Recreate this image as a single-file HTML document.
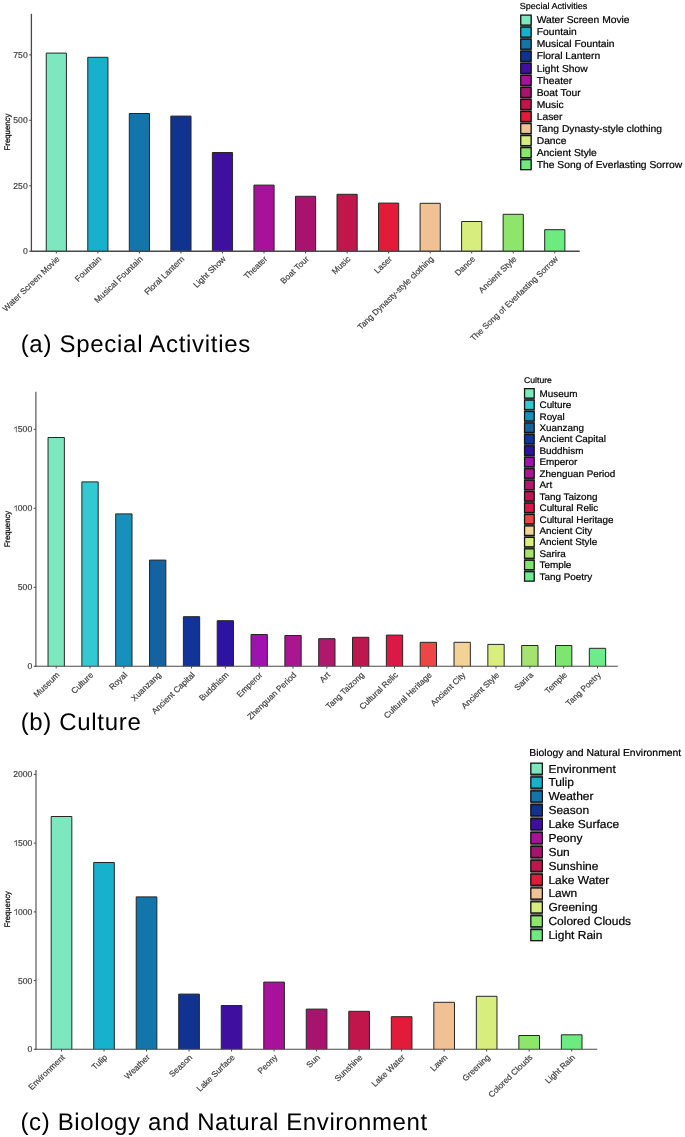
<!DOCTYPE html>
<html><head><meta charset="utf-8"><title>Frequency charts</title>
<style>
html,body{margin:0;padding:0;background:#fff;}
body{width:685px;height:1137px;overflow:hidden;}
svg{display:block;font-family:"Liberation Sans", sans-serif;will-change:transform;text-rendering:geometricPrecision;}
.lg{stroke:#000;stroke-width:0.22px;}
.ax{stroke:#3C3C3C;stroke-width:0.18px;}
</style></head>
<body>
<svg width="685" height="1137" viewBox="0 0 685 1137">
<rect x="0" y="0" width="685" height="1137" fill="#fff"/>
<rect x="46.24" y="53.1" width="20.17" height="198.15" fill="#7DE8BF"/>
<path d="M46.24,251.25V53.1H66.41V251.25" fill="none" stroke="#262626" stroke-width="1"/>
<rect x="87.78" y="57.3" width="20.17" height="193.95" fill="#17B0CD"/>
<path d="M87.78,251.25V57.3H107.95V251.25" fill="none" stroke="#262626" stroke-width="1"/>
<rect x="129.31" y="113.5" width="20.17" height="137.75" fill="#1375AA"/>
<path d="M129.31,251.25V113.5H149.48V251.25" fill="none" stroke="#262626" stroke-width="1"/>
<rect x="170.85" y="116.1" width="20.17" height="135.15" fill="#11338F"/>
<path d="M170.85,251.25V116.1H191.02V251.25" fill="none" stroke="#262626" stroke-width="1"/>
<rect x="212.39" y="152.5" width="20.17" height="98.75" fill="#3F0FA0"/>
<path d="M212.39,251.25V152.5H232.56V251.25" fill="none" stroke="#262626" stroke-width="1"/>
<rect x="253.93" y="185.1" width="20.17" height="66.15" fill="#A8119A"/>
<path d="M253.93,251.25V185.1H274.1V251.25" fill="none" stroke="#262626" stroke-width="1"/>
<rect x="295.47" y="196.3" width="20.17" height="54.95" fill="#A8136D"/>
<path d="M295.47,251.25V196.3H315.63V251.25" fill="none" stroke="#262626" stroke-width="1"/>
<rect x="337" y="194.3" width="20.17" height="56.95" fill="#C1164B"/>
<path d="M337,251.25V194.3H357.17V251.25" fill="none" stroke="#262626" stroke-width="1"/>
<rect x="378.54" y="203.1" width="20.17" height="48.15" fill="#E21B3A"/>
<path d="M378.54,251.25V203.1H398.71V251.25" fill="none" stroke="#262626" stroke-width="1"/>
<rect x="420.08" y="203.3" width="20.17" height="47.95" fill="#F0C195"/>
<path d="M420.08,251.25V203.3H440.25V251.25" fill="none" stroke="#262626" stroke-width="1"/>
<rect x="461.62" y="221.5" width="20.17" height="29.75" fill="#D7EE7E"/>
<path d="M461.62,251.25V221.5H481.79V251.25" fill="none" stroke="#262626" stroke-width="1"/>
<rect x="503.15" y="214.3" width="20.17" height="36.95" fill="#8EE56C"/>
<path d="M503.15,251.25V214.3H523.32V251.25" fill="none" stroke="#262626" stroke-width="1"/>
<rect x="544.69" y="229.7" width="20.17" height="21.55" fill="#6EEB7E"/>
<path d="M544.69,251.25V229.7H564.86V251.25" fill="none" stroke="#262626" stroke-width="1"/>
<line x1="31.4" y1="13.8" x2="31.4" y2="251.9" stroke="#484848" stroke-width="1.3"/>
<line x1="30.75" y1="251.25" x2="579.7" y2="251.25" stroke="#484848" stroke-width="1.3"/>
<line x1="29.2" y1="251.25" x2="31.4" y2="251.25" stroke="#484848" stroke-width="1"/>
<text class="ax" x="27.7" y="254.25" font-size="8.6" fill="#3C3C3C" text-anchor="end">0</text>
<line x1="29.2" y1="185.8" x2="31.4" y2="185.8" stroke="#484848" stroke-width="1"/>
<text class="ax" x="27.7" y="188.8" font-size="8.6" fill="#3C3C3C" text-anchor="end">250</text>
<line x1="29.2" y1="120.3" x2="31.4" y2="120.3" stroke="#484848" stroke-width="1"/>
<text class="ax" x="27.7" y="123.3" font-size="8.6" fill="#3C3C3C" text-anchor="end">500</text>
<line x1="29.2" y1="54.9" x2="31.4" y2="54.9" stroke="#484848" stroke-width="1"/>
<text class="ax" x="27.7" y="57.9" font-size="8.6" fill="#3C3C3C" text-anchor="end">750</text>
<line x1="56.32" y1="251.25" x2="56.32" y2="253.45" stroke="#484848" stroke-width="1"/>
<text class="ax" font-size="8.5" fill="#3C3C3C" text-anchor="end" transform="translate(60.22 259.55) scale(1 0.965) rotate(-45)">Water Screen Movie</text>
<line x1="97.86" y1="251.25" x2="97.86" y2="253.45" stroke="#484848" stroke-width="1"/>
<text class="ax" font-size="8.5" fill="#3C3C3C" text-anchor="end" transform="translate(101.76 259.55) scale(1 0.965) rotate(-45)">Fountain</text>
<line x1="139.4" y1="251.25" x2="139.4" y2="253.45" stroke="#484848" stroke-width="1"/>
<text class="ax" font-size="8.5" fill="#3C3C3C" text-anchor="end" transform="translate(143.3 259.55) scale(1 0.965) rotate(-45)">Musical Fountain</text>
<line x1="180.94" y1="251.25" x2="180.94" y2="253.45" stroke="#484848" stroke-width="1"/>
<text class="ax" font-size="8.5" fill="#3C3C3C" text-anchor="end" transform="translate(184.84 259.55) scale(1 0.965) rotate(-45)">Floral Lantern</text>
<line x1="222.47" y1="251.25" x2="222.47" y2="253.45" stroke="#484848" stroke-width="1"/>
<text class="ax" font-size="8.5" fill="#3C3C3C" text-anchor="end" transform="translate(226.37 259.55) scale(1 0.965) rotate(-45)">Light Show</text>
<line x1="264.01" y1="251.25" x2="264.01" y2="253.45" stroke="#484848" stroke-width="1"/>
<text class="ax" font-size="8.5" fill="#3C3C3C" text-anchor="end" transform="translate(267.91 259.55) scale(1 0.965) rotate(-45)">Theater</text>
<line x1="305.55" y1="251.25" x2="305.55" y2="253.45" stroke="#484848" stroke-width="1"/>
<text class="ax" font-size="8.5" fill="#3C3C3C" text-anchor="end" transform="translate(309.45 259.55) scale(1 0.965) rotate(-45)">Boat Tour</text>
<line x1="347.09" y1="251.25" x2="347.09" y2="253.45" stroke="#484848" stroke-width="1"/>
<text class="ax" font-size="8.5" fill="#3C3C3C" text-anchor="end" transform="translate(350.99 259.55) scale(1 0.965) rotate(-45)">Music</text>
<line x1="388.63" y1="251.25" x2="388.63" y2="253.45" stroke="#484848" stroke-width="1"/>
<text class="ax" font-size="8.5" fill="#3C3C3C" text-anchor="end" transform="translate(392.53 259.55) scale(1 0.965) rotate(-45)">Laser</text>
<line x1="430.16" y1="251.25" x2="430.16" y2="253.45" stroke="#484848" stroke-width="1"/>
<text class="ax" font-size="8.5" fill="#3C3C3C" text-anchor="end" transform="translate(434.06 259.55) scale(1 0.965) rotate(-45)">Tang Dynasty-style clothing</text>
<line x1="471.7" y1="251.25" x2="471.7" y2="253.45" stroke="#484848" stroke-width="1"/>
<text class="ax" font-size="8.5" fill="#3C3C3C" text-anchor="end" transform="translate(475.6 259.55) scale(1 0.965) rotate(-45)">Dance</text>
<line x1="513.24" y1="251.25" x2="513.24" y2="253.45" stroke="#484848" stroke-width="1"/>
<text class="ax" font-size="8.5" fill="#3C3C3C" text-anchor="end" transform="translate(517.14 259.55) scale(1 0.965) rotate(-45)">Ancient Style</text>
<line x1="554.78" y1="251.25" x2="554.78" y2="253.45" stroke="#484848" stroke-width="1"/>
<text class="ax" font-size="8.5" fill="#3C3C3C" text-anchor="end" transform="translate(558.68 259.55) scale(1 0.965) rotate(-45)">The Song of Everlasting Sorrow</text>
<text class="lg" font-size="8.08" fill="#000" text-anchor="middle" transform="translate(9.7 132) scale(1 0.965) rotate(-90)">Frequency</text>
<text class="lg" font-size="9.08" fill="#000000" transform="translate(519.7 8.8) scale(1 0.965)">Special Activities</text>
<rect x="520.3" y="15.45" width="11.3" height="153.9" fill="#6A6A6A"/>
<rect x="520.75" y="15.1" width="10.4" height="10" fill="#7DE8BF" stroke="#141414" stroke-width="1.3"/>
<text class="lg" font-size="10.3" fill="#000000" transform="translate(536.7 23.3) scale(1 0.965)">Water Screen Movie</text>
<rect x="520.75" y="27.15" width="10.4" height="10" fill="#17B0CD" stroke="#141414" stroke-width="1.3"/>
<text class="lg" font-size="10.3" fill="#000000" transform="translate(536.7 35.35) scale(1 0.965)">Fountain</text>
<rect x="520.75" y="39.2" width="10.4" height="10" fill="#1375AA" stroke="#141414" stroke-width="1.3"/>
<text class="lg" font-size="10.3" fill="#000000" transform="translate(536.7 47.4) scale(1 0.965)">Musical Fountain</text>
<rect x="520.75" y="51.25" width="10.4" height="10" fill="#11338F" stroke="#141414" stroke-width="1.3"/>
<text class="lg" font-size="10.3" fill="#000000" transform="translate(536.7 59.45) scale(1 0.965)">Floral Lantern</text>
<rect x="520.75" y="63.3" width="10.4" height="10" fill="#3F0FA0" stroke="#141414" stroke-width="1.3"/>
<text class="lg" font-size="10.3" fill="#000000" transform="translate(536.7 71.5) scale(1 0.965)">Light Show</text>
<rect x="520.75" y="75.35" width="10.4" height="10" fill="#A8119A" stroke="#141414" stroke-width="1.3"/>
<text class="lg" font-size="10.3" fill="#000000" transform="translate(536.7 83.55) scale(1 0.965)">Theater</text>
<rect x="520.75" y="87.4" width="10.4" height="10" fill="#A8136D" stroke="#141414" stroke-width="1.3"/>
<text class="lg" font-size="10.3" fill="#000000" transform="translate(536.7 95.6) scale(1 0.965)">Boat Tour</text>
<rect x="520.75" y="99.45" width="10.4" height="10" fill="#C1164B" stroke="#141414" stroke-width="1.3"/>
<text class="lg" font-size="10.3" fill="#000000" transform="translate(536.7 107.65) scale(1 0.965)">Music</text>
<rect x="520.75" y="111.5" width="10.4" height="10" fill="#E21B3A" stroke="#141414" stroke-width="1.3"/>
<text class="lg" font-size="10.3" fill="#000000" transform="translate(536.7 119.7) scale(1 0.965)">Laser</text>
<rect x="520.75" y="123.55" width="10.4" height="10" fill="#F0C195" stroke="#141414" stroke-width="1.3"/>
<text class="lg" font-size="10.3" fill="#000000" transform="translate(536.7 131.75) scale(1 0.965)">Tang Dynasty-style clothing</text>
<rect x="520.75" y="135.6" width="10.4" height="10" fill="#D7EE7E" stroke="#141414" stroke-width="1.3"/>
<text class="lg" font-size="10.3" fill="#000000" transform="translate(536.7 143.8) scale(1 0.965)">Dance</text>
<rect x="520.75" y="147.65" width="10.4" height="10" fill="#8EE56C" stroke="#141414" stroke-width="1.3"/>
<text class="lg" font-size="10.3" fill="#000000" transform="translate(536.7 155.85) scale(1 0.965)">Ancient Style</text>
<rect x="520.75" y="159.7" width="10.4" height="10" fill="#6EEB7E" stroke="#141414" stroke-width="1.3"/>
<text class="lg" font-size="10.3" fill="#000000" transform="translate(536.7 167.9) scale(1 0.965)">The Song of Everlasting Sorrow</text>
<text x="20.66" y="352.1" font-size="24" letter-spacing="0.71" fill="#000">(a) Special Activities</text>
<rect x="48.04" y="437.5" width="16.32" height="228.8" fill="#7DE8BE"/>
<path d="M48.04,666.3V437.5H64.36V666.3" fill="none" stroke="#262626" stroke-width="1"/>
<rect x="81.87" y="481.9" width="16.32" height="184.4" fill="#33C9D0"/>
<path d="M81.87,666.3V481.9H98.19V666.3" fill="none" stroke="#262626" stroke-width="1"/>
<rect x="115.7" y="513.9" width="16.32" height="152.4" fill="#1890BC"/>
<path d="M115.7,666.3V513.9H132.02V666.3" fill="none" stroke="#262626" stroke-width="1"/>
<rect x="149.54" y="560.1" width="16.32" height="106.2" fill="#1463A0"/>
<path d="M149.54,666.3V560.1H165.85V666.3" fill="none" stroke="#262626" stroke-width="1"/>
<rect x="183.37" y="616.7" width="16.32" height="49.6" fill="#12339A"/>
<path d="M183.37,666.3V616.7H199.68V666.3" fill="none" stroke="#262626" stroke-width="1"/>
<rect x="217.2" y="620.7" width="16.32" height="45.6" fill="#2C14A0"/>
<path d="M217.2,666.3V620.7H233.51V666.3" fill="none" stroke="#262626" stroke-width="1"/>
<rect x="251.03" y="634.5" width="16.32" height="31.8" fill="#A012B0"/>
<path d="M251.03,666.3V634.5H267.35V666.3" fill="none" stroke="#262626" stroke-width="1"/>
<rect x="284.86" y="635.5" width="16.32" height="30.8" fill="#AA1590"/>
<path d="M284.86,666.3V635.5H301.18V666.3" fill="none" stroke="#262626" stroke-width="1"/>
<rect x="318.69" y="638.7" width="16.32" height="27.6" fill="#B0186C"/>
<path d="M318.69,666.3V638.7H335.01V666.3" fill="none" stroke="#262626" stroke-width="1"/>
<rect x="352.52" y="637.3" width="16.32" height="29" fill="#C01650"/>
<path d="M352.52,666.3V637.3H368.84V666.3" fill="none" stroke="#262626" stroke-width="1"/>
<rect x="386.35" y="635.1" width="16.32" height="31.2" fill="#DE1846"/>
<path d="M386.35,666.3V635.1H402.67V666.3" fill="none" stroke="#262626" stroke-width="1"/>
<rect x="420.19" y="642.3" width="16.32" height="24" fill="#EE4646"/>
<path d="M420.19,666.3V642.3H436.5V666.3" fill="none" stroke="#262626" stroke-width="1"/>
<rect x="454.02" y="642.3" width="16.32" height="24" fill="#F2D296"/>
<path d="M454.02,666.3V642.3H470.33V666.3" fill="none" stroke="#262626" stroke-width="1"/>
<rect x="487.85" y="644.4" width="16.32" height="21.9" fill="#DAEE7E"/>
<path d="M487.85,666.3V644.4H504.16V666.3" fill="none" stroke="#262626" stroke-width="1"/>
<rect x="521.68" y="645.5" width="16.32" height="20.8" fill="#A6E270"/>
<path d="M521.68,666.3V645.5H538V666.3" fill="none" stroke="#262626" stroke-width="1"/>
<rect x="555.51" y="645.5" width="16.32" height="20.8" fill="#7EE670"/>
<path d="M555.51,666.3V645.5H571.83V666.3" fill="none" stroke="#262626" stroke-width="1"/>
<rect x="589.34" y="648.3" width="16.32" height="18" fill="#6EEC8A"/>
<path d="M589.34,666.3V648.3H605.66V666.3" fill="none" stroke="#262626" stroke-width="1"/>
<line x1="35.9" y1="391.8" x2="35.9" y2="666.85" stroke="#484848" stroke-width="1.1"/>
<line x1="35.35" y1="666.3" x2="617.8" y2="666.3" stroke="#484848" stroke-width="1.1"/>
<line x1="33.7" y1="666.3" x2="35.9" y2="666.3" stroke="#484848" stroke-width="1"/>
<text class="ax" x="32.2" y="669.3" font-size="8.6" fill="#3C3C3C" text-anchor="end">0</text>
<line x1="33.7" y1="587.3" x2="35.9" y2="587.3" stroke="#484848" stroke-width="1"/>
<text class="ax" x="32.2" y="590.3" font-size="8.6" fill="#3C3C3C" text-anchor="end">500</text>
<line x1="33.7" y1="508.3" x2="35.9" y2="508.3" stroke="#484848" stroke-width="1"/>
<path d="M16.64,511.3 L16.64,505.14 L16.1,505.14 L15.65,505.8 L14.79,506.44 L13.85,506.91 L13.85,507.65 L14.79,507.26 L15.4,506.83 L15.87,506.44 L15.87,511.3Z" fill="#3C3C3C"/>
<text class="ax" x="32.2" y="511.3" font-size="8.6" fill="#3C3C3C" text-anchor="end">000</text>
<line x1="33.7" y1="429.3" x2="35.9" y2="429.3" stroke="#484848" stroke-width="1"/>
<path d="M16.64,432.3 L16.64,426.14 L16.1,426.14 L15.65,426.8 L14.79,427.44 L13.85,427.91 L13.85,428.65 L14.79,428.26 L15.4,427.83 L15.87,427.44 L15.87,432.3Z" fill="#3C3C3C"/>
<text class="ax" x="32.2" y="432.3" font-size="8.6" fill="#3C3C3C" text-anchor="end">500</text>
<line x1="56.2" y1="666.3" x2="56.2" y2="668.5" stroke="#484848" stroke-width="1"/>
<text class="ax" font-size="8.5" fill="#3C3C3C" text-anchor="end" transform="translate(60.1 675.5) scale(1 0.965) rotate(-45)">Museum</text>
<line x1="90.03" y1="666.3" x2="90.03" y2="668.5" stroke="#484848" stroke-width="1"/>
<text class="ax" font-size="8.5" fill="#3C3C3C" text-anchor="end" transform="translate(93.93 675.5) scale(1 0.965) rotate(-45)">Culture</text>
<line x1="123.86" y1="666.3" x2="123.86" y2="668.5" stroke="#484848" stroke-width="1"/>
<text class="ax" font-size="8.5" fill="#3C3C3C" text-anchor="end" transform="translate(127.76 675.5) scale(1 0.965) rotate(-45)">Royal</text>
<line x1="157.69" y1="666.3" x2="157.69" y2="668.5" stroke="#484848" stroke-width="1"/>
<text class="ax" font-size="8.5" fill="#3C3C3C" text-anchor="end" transform="translate(161.59 675.5) scale(1 0.965) rotate(-45)">Xuanzang</text>
<line x1="191.52" y1="666.3" x2="191.52" y2="668.5" stroke="#484848" stroke-width="1"/>
<text class="ax" font-size="8.5" fill="#3C3C3C" text-anchor="end" transform="translate(195.42 675.5) scale(1 0.965) rotate(-45)">Ancient Capital</text>
<line x1="225.36" y1="666.3" x2="225.36" y2="668.5" stroke="#484848" stroke-width="1"/>
<text class="ax" font-size="8.5" fill="#3C3C3C" text-anchor="end" transform="translate(229.26 675.5) scale(1 0.965) rotate(-45)">Buddhism</text>
<line x1="259.19" y1="666.3" x2="259.19" y2="668.5" stroke="#484848" stroke-width="1"/>
<text class="ax" font-size="8.5" fill="#3C3C3C" text-anchor="end" transform="translate(263.09 675.5) scale(1 0.965) rotate(-45)">Emperor</text>
<line x1="293.02" y1="666.3" x2="293.02" y2="668.5" stroke="#484848" stroke-width="1"/>
<text class="ax" font-size="8.5" fill="#3C3C3C" text-anchor="end" transform="translate(296.92 675.5) scale(1 0.965) rotate(-45)">Zhenguan Period</text>
<line x1="326.85" y1="666.3" x2="326.85" y2="668.5" stroke="#484848" stroke-width="1"/>
<text class="ax" font-size="8.5" fill="#3C3C3C" text-anchor="end" transform="translate(330.75 675.5) scale(1 0.965) rotate(-45)">Art</text>
<line x1="360.68" y1="666.3" x2="360.68" y2="668.5" stroke="#484848" stroke-width="1"/>
<text class="ax" font-size="8.5" fill="#3C3C3C" text-anchor="end" transform="translate(364.58 675.5) scale(1 0.965) rotate(-45)">Tang Taizong</text>
<line x1="394.51" y1="666.3" x2="394.51" y2="668.5" stroke="#484848" stroke-width="1"/>
<text class="ax" font-size="8.5" fill="#3C3C3C" text-anchor="end" transform="translate(398.41 675.5) scale(1 0.965) rotate(-45)">Cultural Relic</text>
<line x1="428.34" y1="666.3" x2="428.34" y2="668.5" stroke="#484848" stroke-width="1"/>
<text class="ax" font-size="8.5" fill="#3C3C3C" text-anchor="end" transform="translate(432.24 675.5) scale(1 0.965) rotate(-45)">Cultural Heritage</text>
<line x1="462.18" y1="666.3" x2="462.18" y2="668.5" stroke="#484848" stroke-width="1"/>
<text class="ax" font-size="8.5" fill="#3C3C3C" text-anchor="end" transform="translate(466.08 675.5) scale(1 0.965) rotate(-45)">Ancient City</text>
<line x1="496.01" y1="666.3" x2="496.01" y2="668.5" stroke="#484848" stroke-width="1"/>
<text class="ax" font-size="8.5" fill="#3C3C3C" text-anchor="end" transform="translate(499.91 675.5) scale(1 0.965) rotate(-45)">Ancient Style</text>
<line x1="529.84" y1="666.3" x2="529.84" y2="668.5" stroke="#484848" stroke-width="1"/>
<text class="ax" font-size="8.5" fill="#3C3C3C" text-anchor="end" transform="translate(533.74 675.5) scale(1 0.965) rotate(-45)">Sarira</text>
<line x1="563.67" y1="666.3" x2="563.67" y2="668.5" stroke="#484848" stroke-width="1"/>
<text class="ax" font-size="8.5" fill="#3C3C3C" text-anchor="end" transform="translate(567.57 675.5) scale(1 0.965) rotate(-45)">Temple</text>
<line x1="597.5" y1="666.3" x2="597.5" y2="668.5" stroke="#484848" stroke-width="1"/>
<text class="ax" font-size="8.5" fill="#3C3C3C" text-anchor="end" transform="translate(601.4 675.5) scale(1 0.965) rotate(-45)">Tang Poetry</text>
<text class="lg" font-size="8.03" fill="#000" text-anchor="middle" transform="translate(9.7 529.1) scale(1 0.965) rotate(-90)">Frequency</text>
<text class="lg" font-size="8.63" fill="#000000" transform="translate(524.06 382.8) scale(1 0.965)">Culture</text>
<rect x="524.1" y="389" width="10.5" height="191.79" fill="#6A6A6A"/>
<rect x="524.55" y="388.65" width="9.6" height="9.45" fill="#7DE8BE" stroke="#141414" stroke-width="1.3"/>
<text class="lg" font-size="9.9" fill="#000000" transform="translate(539.5 396.7) scale(1 0.965)">Museum</text>
<rect x="524.55" y="400.09" width="9.6" height="9.45" fill="#33C9D0" stroke="#141414" stroke-width="1.3"/>
<text class="lg" font-size="9.9" fill="#000000" transform="translate(539.5 408.14) scale(1 0.965)">Culture</text>
<rect x="524.55" y="411.53" width="9.6" height="9.45" fill="#1890BC" stroke="#141414" stroke-width="1.3"/>
<text class="lg" font-size="9.9" fill="#000000" transform="translate(539.5 419.58) scale(1 0.965)">Royal</text>
<rect x="524.55" y="422.97" width="9.6" height="9.45" fill="#1463A0" stroke="#141414" stroke-width="1.3"/>
<text class="lg" font-size="9.9" fill="#000000" transform="translate(539.5 431.02) scale(1 0.965)">Xuanzang</text>
<rect x="524.55" y="434.41" width="9.6" height="9.45" fill="#12339A" stroke="#141414" stroke-width="1.3"/>
<text class="lg" font-size="9.9" fill="#000000" transform="translate(539.5 442.46) scale(1 0.965)">Ancient Capital</text>
<rect x="524.55" y="445.85" width="9.6" height="9.45" fill="#2C14A0" stroke="#141414" stroke-width="1.3"/>
<text class="lg" font-size="9.9" fill="#000000" transform="translate(539.5 453.9) scale(1 0.965)">Buddhism</text>
<rect x="524.55" y="457.29" width="9.6" height="9.45" fill="#A012B0" stroke="#141414" stroke-width="1.3"/>
<text class="lg" font-size="9.9" fill="#000000" transform="translate(539.5 465.34) scale(1 0.965)">Emperor</text>
<rect x="524.55" y="468.73" width="9.6" height="9.45" fill="#AA1590" stroke="#141414" stroke-width="1.3"/>
<text class="lg" font-size="9.9" fill="#000000" transform="translate(539.5 476.78) scale(1 0.965)">Zhenguan Period</text>
<rect x="524.55" y="480.17" width="9.6" height="9.45" fill="#B0186C" stroke="#141414" stroke-width="1.3"/>
<text class="lg" font-size="9.9" fill="#000000" transform="translate(539.5 488.22) scale(1 0.965)">Art</text>
<rect x="524.55" y="491.61" width="9.6" height="9.45" fill="#C01650" stroke="#141414" stroke-width="1.3"/>
<text class="lg" font-size="9.9" fill="#000000" transform="translate(539.5 499.66) scale(1 0.965)">Tang Taizong</text>
<rect x="524.55" y="503.05" width="9.6" height="9.45" fill="#DE1846" stroke="#141414" stroke-width="1.3"/>
<text class="lg" font-size="9.9" fill="#000000" transform="translate(539.5 511.1) scale(1 0.965)">Cultural Relic</text>
<rect x="524.55" y="514.49" width="9.6" height="9.45" fill="#EE4646" stroke="#141414" stroke-width="1.3"/>
<text class="lg" font-size="9.9" fill="#000000" transform="translate(539.5 522.54) scale(1 0.965)">Cultural Heritage</text>
<rect x="524.55" y="525.93" width="9.6" height="9.45" fill="#F2D296" stroke="#141414" stroke-width="1.3"/>
<text class="lg" font-size="9.9" fill="#000000" transform="translate(539.5 533.98) scale(1 0.965)">Ancient City</text>
<rect x="524.55" y="537.37" width="9.6" height="9.45" fill="#DAEE7E" stroke="#141414" stroke-width="1.3"/>
<text class="lg" font-size="9.9" fill="#000000" transform="translate(539.5 545.42) scale(1 0.965)">Ancient Style</text>
<rect x="524.55" y="548.81" width="9.6" height="9.45" fill="#A6E270" stroke="#141414" stroke-width="1.3"/>
<text class="lg" font-size="9.9" fill="#000000" transform="translate(539.5 556.86) scale(1 0.965)">Sarira</text>
<rect x="524.55" y="560.25" width="9.6" height="9.45" fill="#7EE670" stroke="#141414" stroke-width="1.3"/>
<text class="lg" font-size="9.9" fill="#000000" transform="translate(539.5 568.3) scale(1 0.965)">Temple</text>
<rect x="524.55" y="571.69" width="9.6" height="9.45" fill="#6EEC8A" stroke="#141414" stroke-width="1.3"/>
<text class="lg" font-size="9.9" fill="#000000" transform="translate(539.5 579.74) scale(1 0.965)">Tang Poetry</text>
<text x="20.66" y="729.6" font-size="24" letter-spacing="0.67" fill="#000">(b) Culture</text>
<rect x="51.18" y="816.5" width="20.66" height="232.8" fill="#7DE8BF"/>
<path d="M51.18,1049.3V816.5H71.84V1049.3" fill="none" stroke="#262626" stroke-width="1"/>
<rect x="93.7" y="862.5" width="20.66" height="186.8" fill="#17B0CD"/>
<path d="M93.7,1049.3V862.5H114.35V1049.3" fill="none" stroke="#262626" stroke-width="1"/>
<rect x="136.21" y="896.9" width="20.66" height="152.4" fill="#1375AA"/>
<path d="M136.21,1049.3V896.9H156.87V1049.3" fill="none" stroke="#262626" stroke-width="1"/>
<rect x="178.73" y="994.1" width="20.66" height="55.2" fill="#11338F"/>
<path d="M178.73,1049.3V994.1H199.38V1049.3" fill="none" stroke="#262626" stroke-width="1"/>
<rect x="221.24" y="1005.5" width="20.66" height="43.8" fill="#3F0FA0"/>
<path d="M221.24,1049.3V1005.5H241.9V1049.3" fill="none" stroke="#262626" stroke-width="1"/>
<rect x="263.76" y="982.1" width="20.66" height="67.2" fill="#A8119A"/>
<path d="M263.76,1049.3V982.1H284.41V1049.3" fill="none" stroke="#262626" stroke-width="1"/>
<rect x="306.27" y="1009.1" width="20.66" height="40.2" fill="#A8136D"/>
<path d="M306.27,1049.3V1009.1H326.93V1049.3" fill="none" stroke="#262626" stroke-width="1"/>
<rect x="348.79" y="1011.3" width="20.66" height="38" fill="#C1164B"/>
<path d="M348.79,1049.3V1011.3H369.44V1049.3" fill="none" stroke="#262626" stroke-width="1"/>
<rect x="391.3" y="1016.7" width="20.66" height="32.6" fill="#E21B3A"/>
<path d="M391.3,1049.3V1016.7H411.96V1049.3" fill="none" stroke="#262626" stroke-width="1"/>
<rect x="433.82" y="1002.3" width="20.66" height="47" fill="#F0C195"/>
<path d="M433.82,1049.3V1002.3H454.47V1049.3" fill="none" stroke="#262626" stroke-width="1"/>
<rect x="476.33" y="996.3" width="20.66" height="53" fill="#D7EE7E"/>
<path d="M476.33,1049.3V996.3H496.99V1049.3" fill="none" stroke="#262626" stroke-width="1"/>
<rect x="518.85" y="1035.5" width="20.66" height="13.8" fill="#8EE56C"/>
<path d="M518.85,1049.3V1035.5H539.5V1049.3" fill="none" stroke="#262626" stroke-width="1"/>
<rect x="561.36" y="1034.8" width="20.66" height="14.5" fill="#6EEB7E"/>
<path d="M561.36,1049.3V1034.8H582.02V1049.3" fill="none" stroke="#262626" stroke-width="1"/>
<line x1="36" y1="769.9" x2="36" y2="1049.85" stroke="#484848" stroke-width="1.1"/>
<line x1="35.45" y1="1049.3" x2="597.2" y2="1049.3" stroke="#484848" stroke-width="1.1"/>
<line x1="33.8" y1="1049.3" x2="36" y2="1049.3" stroke="#484848" stroke-width="1"/>
<text class="ax" x="32.3" y="1052.3" font-size="8.6" fill="#3C3C3C" text-anchor="end">0</text>
<line x1="33.8" y1="980.6" x2="36" y2="980.6" stroke="#484848" stroke-width="1"/>
<text class="ax" x="32.3" y="983.6" font-size="8.6" fill="#3C3C3C" text-anchor="end">500</text>
<line x1="33.8" y1="911.9" x2="36" y2="911.9" stroke="#484848" stroke-width="1"/>
<path d="M16.74,914.9 L16.74,908.74 L16.2,908.74 L15.75,909.4 L14.89,910.04 L13.95,910.51 L13.95,911.25 L14.89,910.86 L15.5,910.43 L15.97,910.04 L15.97,914.9Z" fill="#3C3C3C"/>
<text class="ax" x="32.3" y="914.9" font-size="8.6" fill="#3C3C3C" text-anchor="end">000</text>
<line x1="33.8" y1="843.1" x2="36" y2="843.1" stroke="#484848" stroke-width="1"/>
<path d="M16.74,846.1 L16.74,839.94 L16.2,839.94 L15.75,840.6 L14.89,841.24 L13.95,841.71 L13.95,842.45 L14.89,842.06 L15.5,841.63 L15.97,841.24 L15.97,846.1Z" fill="#3C3C3C"/>
<text class="ax" x="32.3" y="846.1" font-size="8.6" fill="#3C3C3C" text-anchor="end">500</text>
<line x1="33.8" y1="774.4" x2="36" y2="774.4" stroke="#484848" stroke-width="1"/>
<text class="ax" x="32.3" y="777.4" font-size="8.6" fill="#3C3C3C" text-anchor="end">2000</text>
<line x1="61.51" y1="1049.3" x2="61.51" y2="1051.5" stroke="#484848" stroke-width="1"/>
<text class="ax" font-size="8.5" fill="#3C3C3C" text-anchor="end" transform="translate(65.41 1057.9) scale(1 0.965) rotate(-45)">Environment</text>
<line x1="104.02" y1="1049.3" x2="104.02" y2="1051.5" stroke="#484848" stroke-width="1"/>
<text class="ax" font-size="8.5" fill="#3C3C3C" text-anchor="end" transform="translate(107.92 1057.9) scale(1 0.965) rotate(-45)">Tulip</text>
<line x1="146.54" y1="1049.3" x2="146.54" y2="1051.5" stroke="#484848" stroke-width="1"/>
<text class="ax" font-size="8.5" fill="#3C3C3C" text-anchor="end" transform="translate(150.44 1057.9) scale(1 0.965) rotate(-45)">Weather</text>
<line x1="189.05" y1="1049.3" x2="189.05" y2="1051.5" stroke="#484848" stroke-width="1"/>
<text class="ax" font-size="8.5" fill="#3C3C3C" text-anchor="end" transform="translate(192.95 1057.9) scale(1 0.965) rotate(-45)">Season</text>
<line x1="231.57" y1="1049.3" x2="231.57" y2="1051.5" stroke="#484848" stroke-width="1"/>
<text class="ax" font-size="8.5" fill="#3C3C3C" text-anchor="end" transform="translate(235.47 1057.9) scale(1 0.965) rotate(-45)">Lake Surface</text>
<line x1="274.08" y1="1049.3" x2="274.08" y2="1051.5" stroke="#484848" stroke-width="1"/>
<text class="ax" font-size="8.5" fill="#3C3C3C" text-anchor="end" transform="translate(277.98 1057.9) scale(1 0.965) rotate(-45)">Peony</text>
<line x1="316.6" y1="1049.3" x2="316.6" y2="1051.5" stroke="#484848" stroke-width="1"/>
<text class="ax" font-size="8.5" fill="#3C3C3C" text-anchor="end" transform="translate(320.5 1057.9) scale(1 0.965) rotate(-45)">Sun</text>
<line x1="359.12" y1="1049.3" x2="359.12" y2="1051.5" stroke="#484848" stroke-width="1"/>
<text class="ax" font-size="8.5" fill="#3C3C3C" text-anchor="end" transform="translate(363.02 1057.9) scale(1 0.965) rotate(-45)">Sunshine</text>
<line x1="401.63" y1="1049.3" x2="401.63" y2="1051.5" stroke="#484848" stroke-width="1"/>
<text class="ax" font-size="8.5" fill="#3C3C3C" text-anchor="end" transform="translate(405.53 1057.9) scale(1 0.965) rotate(-45)">Lake Water</text>
<line x1="444.15" y1="1049.3" x2="444.15" y2="1051.5" stroke="#484848" stroke-width="1"/>
<text class="ax" font-size="8.5" fill="#3C3C3C" text-anchor="end" transform="translate(448.05 1057.9) scale(1 0.965) rotate(-45)">Lawn</text>
<line x1="486.66" y1="1049.3" x2="486.66" y2="1051.5" stroke="#484848" stroke-width="1"/>
<text class="ax" font-size="8.5" fill="#3C3C3C" text-anchor="end" transform="translate(490.56 1057.9) scale(1 0.965) rotate(-45)">Greening</text>
<line x1="529.18" y1="1049.3" x2="529.18" y2="1051.5" stroke="#484848" stroke-width="1"/>
<text class="ax" font-size="8.5" fill="#3C3C3C" text-anchor="end" transform="translate(533.08 1057.9) scale(1 0.965) rotate(-45)">Colored Clouds</text>
<line x1="571.69" y1="1049.3" x2="571.69" y2="1051.5" stroke="#484848" stroke-width="1"/>
<text class="ax" font-size="8.5" fill="#3C3C3C" text-anchor="end" transform="translate(575.59 1057.9) scale(1 0.965) rotate(-45)">Light Rain</text>
<text class="lg" font-size="7.98" fill="#000" text-anchor="middle" transform="translate(9.7 909.3) scale(1 0.965) rotate(-90)">Frequency</text>
<text class="lg" font-size="10.4" fill="#000000" transform="translate(529.35 756.1) scale(1 0.965)">Biology and Natural Environment</text>
<rect x="530.4" y="763.5" width="12.4" height="176.84" fill="#6A6A6A"/>
<rect x="530.85" y="763.15" width="11.5" height="11.1" fill="#7DE8BF" stroke="#141414" stroke-width="1.3"/>
<text class="lg" font-size="12" fill="#000000" transform="translate(548.4 772.6) scale(1 0.965)">Environment</text>
<rect x="530.85" y="777.02" width="11.5" height="11.1" fill="#17B0CD" stroke="#141414" stroke-width="1.3"/>
<text class="lg" font-size="12" fill="#000000" transform="translate(548.4 786.47) scale(1 0.965)">Tulip</text>
<rect x="530.85" y="790.89" width="11.5" height="11.1" fill="#1375AA" stroke="#141414" stroke-width="1.3"/>
<text class="lg" font-size="12" fill="#000000" transform="translate(548.4 800.34) scale(1 0.965)">Weather</text>
<rect x="530.85" y="804.76" width="11.5" height="11.1" fill="#11338F" stroke="#141414" stroke-width="1.3"/>
<text class="lg" font-size="12" fill="#000000" transform="translate(548.4 814.21) scale(1 0.965)">Season</text>
<rect x="530.85" y="818.63" width="11.5" height="11.1" fill="#3F0FA0" stroke="#141414" stroke-width="1.3"/>
<text class="lg" font-size="12" fill="#000000" transform="translate(548.4 828.08) scale(1 0.965)">Lake Surface</text>
<rect x="530.85" y="832.5" width="11.5" height="11.1" fill="#A8119A" stroke="#141414" stroke-width="1.3"/>
<text class="lg" font-size="12" fill="#000000" transform="translate(548.4 841.95) scale(1 0.965)">Peony</text>
<rect x="530.85" y="846.37" width="11.5" height="11.1" fill="#A8136D" stroke="#141414" stroke-width="1.3"/>
<text class="lg" font-size="12" fill="#000000" transform="translate(548.4 855.82) scale(1 0.965)">Sun</text>
<rect x="530.85" y="860.24" width="11.5" height="11.1" fill="#C1164B" stroke="#141414" stroke-width="1.3"/>
<text class="lg" font-size="12" fill="#000000" transform="translate(548.4 869.69) scale(1 0.965)">Sunshine</text>
<rect x="530.85" y="874.11" width="11.5" height="11.1" fill="#E21B3A" stroke="#141414" stroke-width="1.3"/>
<text class="lg" font-size="12" fill="#000000" transform="translate(548.4 883.56) scale(1 0.965)">Lake Water</text>
<rect x="530.85" y="887.98" width="11.5" height="11.1" fill="#F0C195" stroke="#141414" stroke-width="1.3"/>
<text class="lg" font-size="12" fill="#000000" transform="translate(548.4 897.43) scale(1 0.965)">Lawn</text>
<rect x="530.85" y="901.85" width="11.5" height="11.1" fill="#D7EE7E" stroke="#141414" stroke-width="1.3"/>
<text class="lg" font-size="12" fill="#000000" transform="translate(548.4 911.3) scale(1 0.965)">Greening</text>
<rect x="530.85" y="915.72" width="11.5" height="11.1" fill="#8EE56C" stroke="#141414" stroke-width="1.3"/>
<text class="lg" font-size="12" fill="#000000" transform="translate(548.4 925.17) scale(1 0.965)">Colored Clouds</text>
<rect x="530.85" y="929.59" width="11.5" height="11.1" fill="#6EEB7E" stroke="#141414" stroke-width="1.3"/>
<text class="lg" font-size="12" fill="#000000" transform="translate(548.4 939.04) scale(1 0.965)">Light Rain</text>
<text x="20.5" y="1130.2" font-size="24" letter-spacing="0.62" fill="#000">(c) Biology and Natural Environment</text>
</svg>
</body></html>
